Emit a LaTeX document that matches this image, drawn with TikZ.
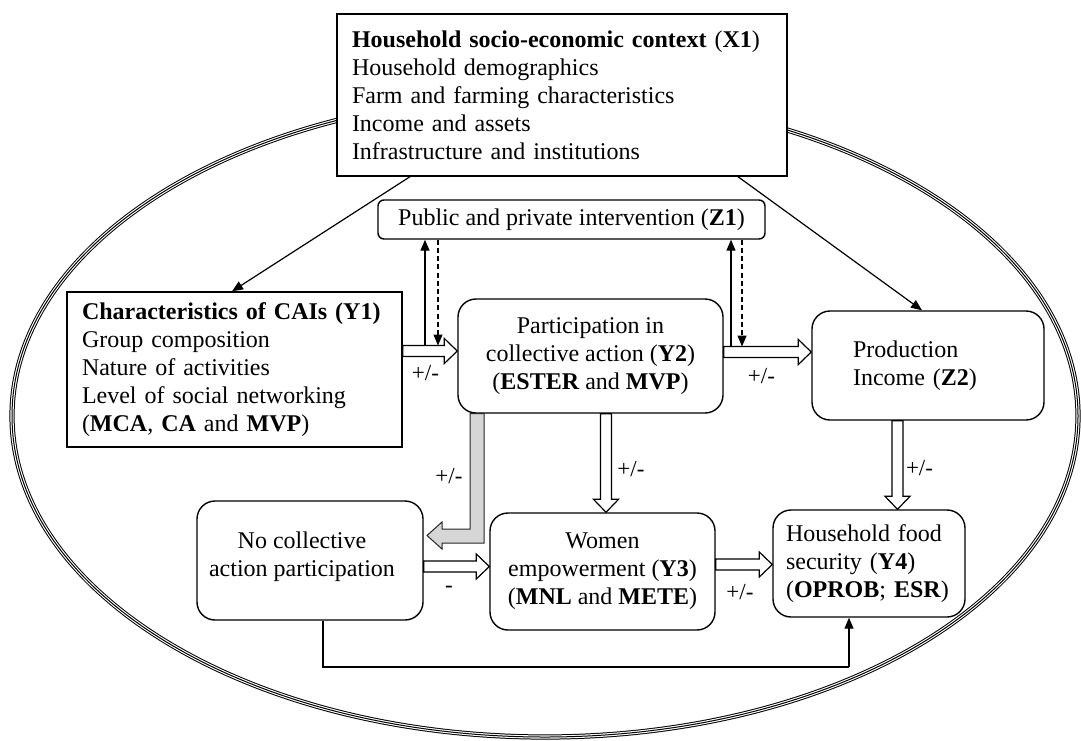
\documentclass[tikz,border=0pt]{standalone}
\usepackage{fontspec}
\setmainfont{Liberation Serif}
\usetikzlibrary{arrows.meta,calc}

% hollow block arrow pointing right: #2 tail point, #3 tip point (its x is used)
\newcommand\BlockRight[3][]{%
  \draw[hollow,#1] let \p1=(#2), \p2=(#3) in
    ({\x1},{\y1+2.75pt}) -- ({\x2-6.5pt},{\y1+2.75pt}) -- ({\x2-6.5pt},{\y1+6.25pt})
    -- ({\x2},{\y1}) -- ({\x2-6.5pt},{\y1-6.25pt}) -- ({\x2-6.5pt},{\y1-2.75pt})
    -- ({\x1},{\y1-2.75pt}) -- cycle;}
% hollow block arrow pointing down: #2 tail point, #3 tip point (its y is used)
\newcommand\BlockDown[3][]{%
  \draw[hollow,#1] let \p1=(#2), \p2=(#3) in
    ({\x1-2.75pt},{\y1}) -- ({\x1-2.75pt},{\y2+6.5pt}) -- ({\x1-6.25pt},{\y2+6.5pt})
    -- ({\x1},{\y2}) -- ({\x1+6.25pt},{\y2+6.5pt}) -- ({\x1+2.75pt},{\y2+6.5pt})
    -- ({\x1+2.75pt},{\y1}) -- cycle;}

\begin{document}
\begin{tikzpicture}[x=0.5pt,y=-0.5pt,
  every node/.style={font=\fontsize{12}{14}\selectfont},
  sqbox/.style={draw, line width=0.7pt, fill=white, inner sep=0pt, align=left},
  rbox/.style={draw, line width=0.7pt, fill=white, rounded corners=9pt, inner sep=0pt, align=center},
  txt/.style={inner sep=0pt},
  lab/.style={inner sep=0pt, font=\fontsize{11.5}{13}\selectfont},
  hollow/.style={draw=black, line width=0.6pt, fill=white, line join=miter},
  grayblock/.style={draw=black!85, line width=0.5pt, fill=black!16, line join=miter},
  link/.style={line width=0.6pt, -{Triangle[length=5.5pt,width=4.5pt]}},
  dlink/.style={line width=0.6pt, dash pattern=on 2.5pt off 1.6pt, -{Triangle[length=5.5pt,width=4.5pt]}},
  plain/.style={line width=0.6pt}
]
\useasboundingbox (0,0) rectangle (1081,740);

% enclosing triple-line ellipse
\foreach \w/\c in {2.6pt/black, 1.6pt/white, 0.5pt/black}
  \draw[line width=\w, \c] (545,416) ellipse [x radius=266.5pt, y radius=160.5pt];

% boxes
\node[sqbox, minimum width=225pt, minimum height=81pt, text width=210pt] (X1) at (562,95)
  {\textbf{Household socio-economic context} (\textbf{X1})\\
   Household demographics\\
   Farm and farming characteristics\\
   Income and assets\\
   Infrastructure and institutions};

\node[rbox, rounded corners=3pt, minimum width=193.5pt, minimum height=19.5pt] (Z1) at (571.5,219.5)
  {Public and private intervention (\textbf{Z1})};

\node[sqbox, minimum width=167.5pt, minimum height=77.5pt, text width=152.5pt] (Y1) at (234.5,369.5)
  {\textbf{Characteristics of CAIs (Y1)}\\
   Group composition\\
   Nature of activities\\
   Level of social networking\\
   (\textbf{MCA}, \textbf{CA} and \textbf{MVP})};

\node[rbox, minimum width=132.5pt, minimum height=57pt] (Y2) at (590.5,356)
  {Participation in\\collective action (\textbf{Y2})\\(\textbf{ESTER} and \textbf{MVP})};

\node[rbox, minimum width=116pt, minimum height=54.5pt, text width=75pt, align=left] (Z2) at (928,365.5)
  {Production\\Income (\textbf{Z2})};

\node[rbox, minimum width=113pt, minimum height=59.5pt] (NoCA) at (310,560.5) {};
\node[txt, align=center] (NoCAt) at (302,557) {No collective\\action participation};

\node[rbox, minimum width=112.5pt, minimum height=58.5pt] (Y3) at (602.5,571.5)
  {Women\\empowerment (\textbf{Y3})\\(\textbf{MNL} and \textbf{METE})};

\node[rbox, minimum width=96pt, minimum height=53.5pt, text width=83pt, align=left] (Y4) at (869,563.5)
  {Household food\\security (\textbf{Y4})\\(\textbf{OPROB}; \textbf{ESR})};

% context arrows
\draw[link] (X1.south -| 410,0) -- (Y1.north -| 232,0);
\draw[link] (X1.south -| 738,0) -- (Z2.north -| 922,0);

% block arrows
\BlockRight{Y1.east |- 0,351}{Y2.west}
\BlockRight{Y2.east |- 0,352}{Z2.west}
\BlockRight{NoCA.east |- 0,566.5}{Y3.west}
\BlockRight{Y3.east |- 0,564.5}{Y4.west}
\BlockDown{Y2.south -| 606,0}{Y3.north}
\BlockDown{Z2.south -| 897.5,0}{Y4.north}

\coordinate (gtip) at (427,535.5);
\draw[grayblock] (Y2.south -| 470,0) -- (Y2.south -| 484,0) -- (484,543) -- (442,543)
  -- (442,549) -- (gtip) -- (442,522) -- (442,529) -- (470,529) -- cycle;

% links with the interventions box
\coordinate (za) at (425,345.5);
\coordinate (zb) at (438,345.5);
\coordinate (zc) at (731,346.5);
\coordinate (zd) at (742,346.5);
\draw[link] (za) -- (za |- Z1.south);
\draw[dlink] (zb |- Z1.south) -- (zb);
\draw[link] (zc) -- (zc |- Z1.south);
\draw[dlink] (zd |- Z1.south) -- (zd);

% non-participants to food security
\coordinate (b1) at (323,667);
\coordinate (b2) at (849,667);
\draw[plain] (NoCA.south -| b1) -- (b1) -- (b2);
\draw[link] (b2) -- (b2 |- Y4.south);

% effect signs
\node[lab] (s1) at (425.5,373) {+/-};
\node[lab] (s2) at (761.5,376) {+/-};
\node[lab] (s3) at (631,469) {+/-};
\node[lab] (s4) at (449,476) {+/-};
\node[lab] (s5) at (449,589) {-};
\node[lab] (s6) at (740,592) {+/-};
\node[lab] (s7) at (919.5,468) {+/-};
\end{tikzpicture}
\end{document}
